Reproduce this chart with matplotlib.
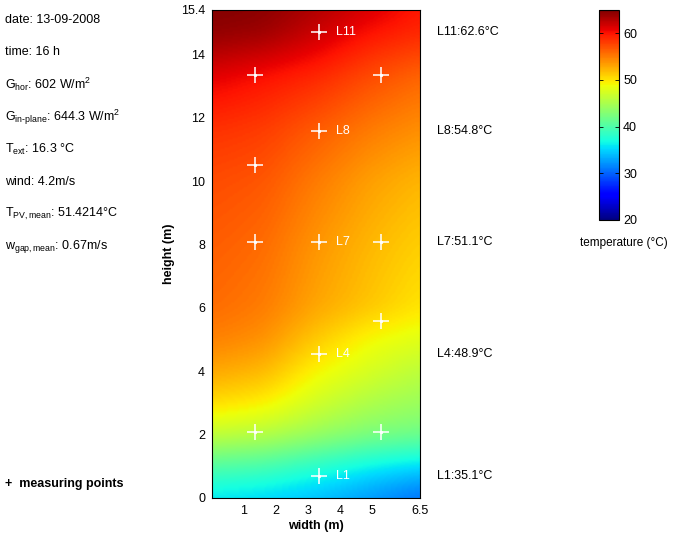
import numpy as np
import matplotlib
matplotlib.use("Agg")
from matplotlib import pyplot as plt
from matplotlib import transforms

plt.rcParams['font.family'] = ['Liberation Sans', 'DejaVu Sans']
plt.rcParams['mathtext.fontset'] = 'custom'
plt.rcParams['mathtext.rm'] = 'Liberation Sans'
plt.rcParams['mathtext.it'] = 'Liberation Sans'
plt.rcParams['mathtext.bf'] = 'Liberation Sans:bold'
plt.rcParams['font.size'] = 9

# temperature field (grid in m, values in degC)
grid_x = [0, 1.6, 3.25, 4.9, 6.5]
grid_y = [0, 1, 2, 3, 4, 5, 6, 8, 10, 11.6, 13.3, 14.7, 15.4]
field = [
    [35.6, 35.0, 34.0, 32.3, 30.4],
    [40.3, 39.7, 38.0, 36.4, 35.3],
    [46.5, 45.8, 44.2, 42.7, 42.0],
    [50.5, 49.6, 47.2, 45.3, 44.2],
    [53.0, 52.2, 49.2, 47.5, 46.0],
    [54.8, 54.0, 51.3, 49.0, 48.0],
    [55.8, 55.0, 53.0, 51.5, 50.0],
    [56.5, 55.8, 53.8, 52.2, 51.0],
    [57.3, 56.8, 55.0, 53.3, 52.2],
    [58.5, 58.0, 56.5, 55.0, 54.0],
    [61.0, 60.0, 59.0, 57.3, 56.0],
    [64.3, 63.8, 62.0, 60.0, 59.0],
    [64.8, 64.5, 63.0, 61.5, 59.8],
]

# measuring points
pts_x = [3.33, 1.35, 5.28, 3.33, 1.35, 1.35, 3.33, 5.28, 5.28, 3.33, 1.35, 5.28, 3.33]
pts_y = [14.7, 13.34, 13.34, 11.58, 10.5, 8.08, 8.08, 8.08, 5.58, 4.54, 2.08, 2.08, 0.69]

# labelled sensors
lab_names = ['L11', 'L8', 'L7', 'L4', 'L1']
lab_y = [14.7, 11.58, 8.08, 4.54, 0.69]
lab_temp = [62.6, 54.8, 51.1, 48.9, 35.1]

info = [
    'date: 13-09-2008',
    'time: 16 h',
    r'G$_{\mathrm{hor}}$: 602 W/m$^{2}$',
    r'G$_{\mathrm{in\text{-}plane}}$: 644.3 W/m$^{2}$',
    r'T$_{\mathrm{ext}}$: 16.3 °C',
    'wind: 4.2m/s',
    r'T$_{\mathrm{PV,mean}}$: 51.4214°C',
    r'w$_{\mathrm{gap,mean}}$: 0.67m/s',
]


def smooth(a, sigma, axis):
    # gaussian blur along one axis, edges padded with edge values
    r = int(3 * sigma)
    k = np.exp(-0.5 * (np.arange(-r, r + 1) / sigma) ** 2)
    k /= k.sum()
    pad = [(0, 0), (0, 0)]
    pad[axis] = (r, r)
    p = np.pad(a, pad, mode='edge')
    return np.apply_along_axis(lambda v: np.convolve(v, k, mode='valid'), axis, p)


# resample the coarse grid to a fine one so the image is smooth
gx = np.array(grid_x)
gy = np.array(grid_y)
f = np.array(field)
fx = np.linspace(0, 6.5, 131)
fy = np.linspace(0, 15.4, 309)
tmp = np.array([np.interp(fx, gx, row) for row in f])
fine = np.array([np.interp(fy, gy, tmp[:, j]) for j in range(len(fx))]).T
fine = smooth(smooth(fine, 7, 0), 7, 1)

fig = plt.figure(figsize=(6.76, 5.38), dpi=100)
ax = fig.add_axes([212 / 676, 40 / 538, 208 / 676, 488 / 538])

im = ax.imshow(fine, origin='lower', extent=[0, 6.5, 0, 15.4], aspect='auto',
               cmap='jet', vmin=20, vmax=65, interpolation='bilinear')

ax.plot(pts_x, pts_y, '+', color='white', ms=12, mew=1.1)
ax.plot(pts_x, pts_y, 'o', color='white', ms=2.4, mew=0)
for n, yy in zip(lab_names, lab_y):
    ax.text(3.33 + 0.55, yy, n, color='white', fontsize=9, va='center', ha='left')

ax.set_xlim(0, 6.5)
ax.set_ylim(0, 15.4)
ax.set_xticks([1, 2, 3, 4, 5, 6.5])
ax.set_xticklabels(['1', '2', '3', '4', '5', '6.5'])
ax.set_yticks([0, 2, 4, 6, 8, 10, 12, 14, 15.4])
ax.set_yticklabels(['0', '2', '4', '6', '8', '10', '12', '14', '15.4'])
ax.tick_params(length=0, pad=5, labelsize=9)
ax.set_xlabel('width (m)', fontweight='bold', fontsize=9, labelpad=2)
ax.set_ylabel('height (m)', fontweight='bold', fontsize=9, labelpad=4)

trans = transforms.blended_transform_factory(ax.transAxes, ax.transData)
for n, yy, t in zip(lab_names, lab_y, lab_temp):
    ax.text(1.08, yy, '%s:%.1f°C' % (n, t), transform=trans, fontsize=9, va='center', ha='left')

# colorbar
cax = fig.add_axes([599 / 676, (538 - 220) / 538, 20 / 676, 210 / 538])
cb = fig.colorbar(im, cax=cax, ticks=[20, 30, 40, 50, 60])
cb.outline.set_linewidth(0.8)
cax.tick_params(direction='in', length=3, width=0.6, left=True, right=True, labelsize=9, pad=3)
fig.text(624 / 676, 1 - 243 / 538, 'temperature (°C)', ha='center', va='center', fontsize=8.5)

# info text on the left
for i, s in enumerate(info):
    fig.text(5 / 676, 1 - (20 + i * 32.4) / 538, s, ha='left', va='center', fontsize=9)
fig.text(5 / 676, 1 - 484 / 538, '+  measuring points', ha='left', va='center', fontsize=9, fontweight='bold')

fig.savefig('out.png', dpi=100, facecolor='white')
